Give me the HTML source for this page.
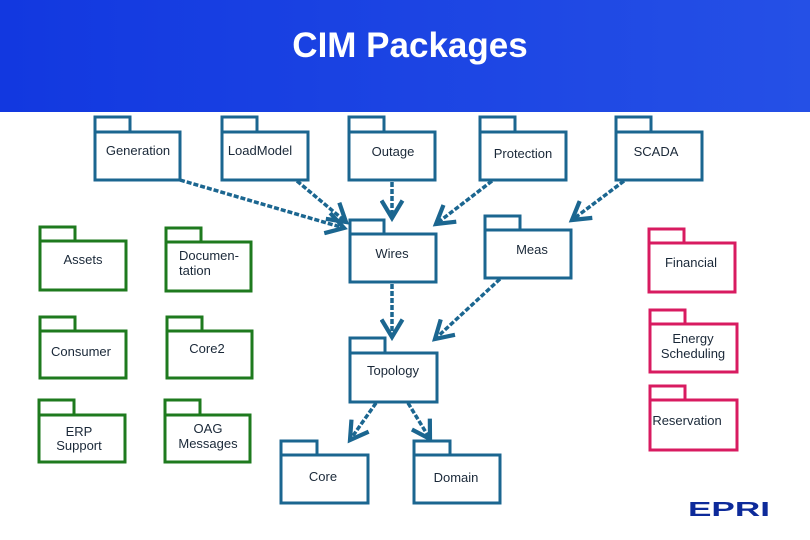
<!DOCTYPE html>
<html><head><meta charset="utf-8"><style>
html,body{margin:0;padding:0;background:#fff;}
svg{display:block;}
text{font-family:"Liberation Sans",sans-serif;}
</style></head><body>
<svg width="810" height="540" viewBox="0 0 810 540" xmlns="http://www.w3.org/2000/svg">
<defs>
<linearGradient id="hg" x1="0" y1="0" x2="1" y2="0">
<stop offset="0" stop-color="#1238e0"/><stop offset="1" stop-color="#2550e6"/>
</linearGradient>
<marker id="ah" markerWidth="7" markerHeight="7" refX="5.5" refY="3.5" orient="auto" markerUnits="strokeWidth">
<path d="M0.5,0.5 L5.5,3.5 L0.5,6.5" fill="none" stroke="#1b6690" stroke-width="1.2"/>
</marker>
</defs>
<rect x="0" y="0" width="810" height="112" fill="url(#hg)"/>
<text x="410" y="57" font-size="35" font-weight="bold" fill="#fff" text-anchor="middle">CIM Packages</text>

<g fill="none" stroke-width="3">
<g stroke="#1b6690">
<rect x="95" y="117" width="35" height="15"/><rect x="95" y="132" width="85" height="48"/>
<rect x="222" y="117" width="35" height="15"/><rect x="222" y="132" width="86" height="48"/>
<rect x="349" y="117" width="35" height="15"/><rect x="349" y="132" width="86" height="48"/>
<rect x="480" y="117" width="35" height="15"/><rect x="480" y="132" width="86" height="48"/>
<rect x="616" y="117" width="35" height="15"/><rect x="616" y="132" width="86" height="48"/>
<rect x="350" y="220" width="34" height="14"/><rect x="350" y="234" width="86" height="48"/>
<rect x="485" y="216" width="35" height="14"/><rect x="485" y="230" width="86" height="48"/>
<rect x="350" y="338" width="35" height="15"/><rect x="350" y="353" width="87" height="49"/>
<rect x="281" y="441" width="36" height="14"/><rect x="281" y="455" width="87" height="48"/>
<rect x="414" y="441" width="36" height="14"/><rect x="414" y="455" width="86" height="48"/>
</g>
<g stroke="#1e7a1e">
<rect x="40" y="227" width="35" height="14"/><rect x="40" y="241" width="86" height="49"/>
<rect x="166" y="228" width="35" height="14"/><rect x="166" y="242" width="85" height="49"/>
<rect x="40" y="317" width="35" height="14"/><rect x="40" y="331" width="86" height="47"/>
<rect x="167" y="317" width="35" height="14"/><rect x="167" y="331" width="85" height="47"/>
<rect x="39" y="400" width="35" height="15"/><rect x="39" y="415" width="86" height="47"/>
<rect x="165" y="400" width="35" height="15"/><rect x="165" y="415" width="85" height="47"/>
</g>
<g stroke="#d81b60">
<rect x="649" y="229" width="35" height="14"/><rect x="649" y="243" width="86" height="49"/>
<rect x="650" y="310" width="35" height="14"/><rect x="650" y="324" width="87" height="48"/>
<rect x="650" y="386" width="35" height="14"/><rect x="650" y="400" width="87" height="50"/>
</g>
<g stroke="#1b6690" stroke-width="3.5" stroke-dasharray="5,2" marker-end="url(#ah)">
<line x1="180" y1="180" x2="344" y2="228"/>
<line x1="297" y1="181" x2="346" y2="222"/>
<line x1="392" y1="182" x2="392" y2="218"/>
<line x1="492" y1="181" x2="436" y2="224"/>
<line x1="624" y1="181" x2="572" y2="220"/>
<line x1="392" y1="284" x2="392" y2="337"/>
<line x1="500" y1="279" x2="435" y2="339"/>
<line x1="376" y1="403" x2="350" y2="440"/>
<line x1="408" y1="403" x2="430" y2="439"/>
</g>
</g>

<g font-size="13" fill="#1a2838" text-anchor="middle">
<text x="138" y="155">Generation</text>
<text x="260" y="155">LoadModel</text>
<text x="393" y="156">Outage</text>
<text x="523" y="158">Protection</text>
<text x="656" y="156">SCADA</text>
<text x="83" y="264">Assets</text>
<text x="179" y="260" text-anchor="start">Documen-</text>
<text x="179" y="275" text-anchor="start">tation</text>
<text x="392" y="258">Wires</text>
<text x="532" y="254">Meas</text>
<text x="691" y="267">Financial</text>
<text x="81" y="356">Consumer</text>
<text x="207" y="353">Core2</text>
<text x="693" y="343">Energy</text>
<text x="693" y="358">Scheduling</text>
<text x="393" y="375">Topology</text>
<text x="79" y="436">ERP</text>
<text x="79" y="450">Support</text>
<text x="208" y="433">OAG</text>
<text x="208" y="448">Messages</text>
<text x="687" y="425">Reservation</text>
<text x="323" y="481">Core</text>
<text x="456" y="482">Domain</text>
</g>
<text x="729" y="516" font-size="20" font-weight="bold" fill="#0d2a9a" text-anchor="middle" textLength="82" lengthAdjust="spacingAndGlyphs">EPRI</text>
</svg>
</body></html>
